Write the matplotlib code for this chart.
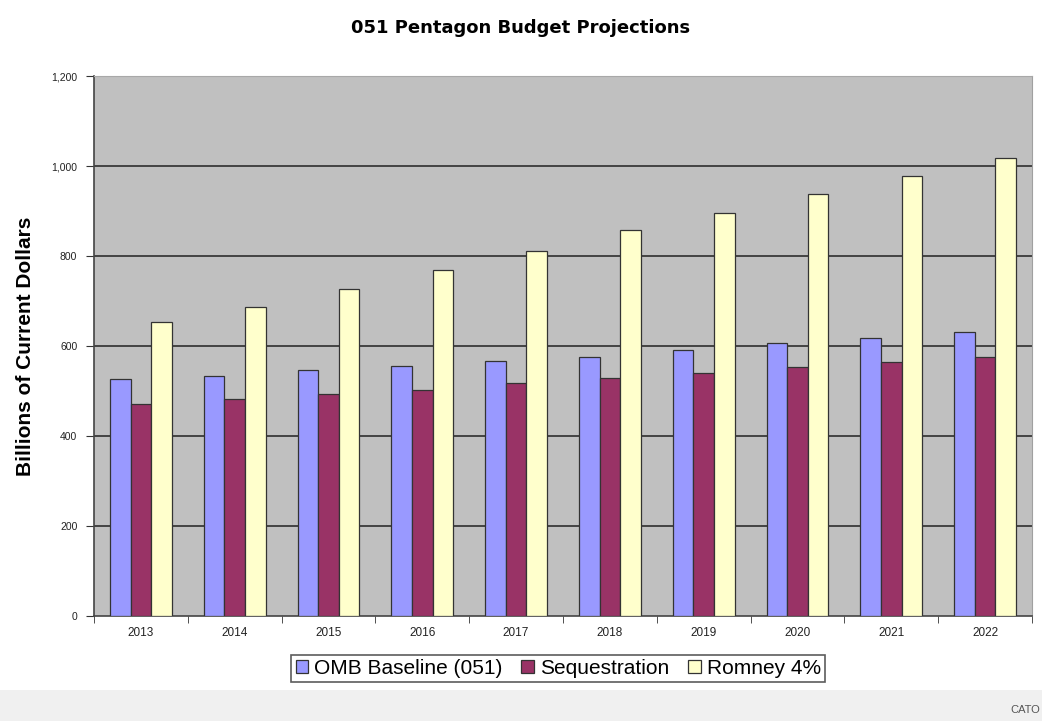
import matplotlib.pyplot as plt
import numpy as np
from matplotlib.patches import Rectangle

plt.rcParams['font.family'] = ['Liberation Sans', 'DejaVu Sans']

years = ['2013', '2014', '2015', '2016', '2017', '2018', '2019', '2020', '2021', '2022']
omb = [527, 533, 547, 555, 567, 576, 591, 606, 618, 631]
sequestration = [471, 482, 493, 502, 517, 529, 540, 553, 564, 576]
romney = [653, 687, 727, 768, 812, 858, 896, 937, 978, 1018]

names = ['OMB Baseline (051)', 'Sequestration', 'Romney 4%']
colors = ['#9999FF', '#993366', '#FFFFCC']

fig = plt.figure(figsize=(10.42, 7.21), dpi=100)
fig.patch.set_facecolor('white')

# light band at the bottom of the picture
fig.patches.append(Rectangle((0, 0), 1, 31 / 721, transform=fig.transFigure,
                             facecolor='#F0F0F0', edgecolor='none', zorder=0))
fig.text(0.998, 0.008, 'CATO', ha='right', va='bottom', fontsize=8, color='#555555')

ax = fig.add_axes([94 / 1042, 1 - 616 / 721, 938 / 1042, 540 / 721])
ax.set_facecolor('#C0C0C0')

x = np.arange(len(years))
w = 0.22
series = [omb, sequestration, romney]
for i, (vals, c, n) in enumerate(zip(series, colors, names)):
    ax.bar(x + (i - 1) * w, vals, w, color=c, edgecolor='#333333', linewidth=0.9,
           label=n, zorder=3)

ax.set_xlim(-0.5, len(years) - 0.5)
ax.set_ylim(0, 1200)
ax.set_yticks(range(0, 1201, 200))
ax.set_yticklabels(['0', '200', '400', '600', '800', '1,000', '1,200'])
ax.yaxis.grid(True, color='#222222', linewidth=1.1, zorder=1)
ax.set_axisbelow(True)
gl = ax.yaxis.get_gridlines()
gl[0].set_visible(False)
gl[-1].set_visible(False)

ax.set_xticks(x)
ax.set_xticklabels(years)
ax.set_xticks(np.arange(-0.5, len(years)), minor=True)
ax.tick_params(axis='x', which='major', length=0, labelsize=8.5, colors='#222222', pad=8)
ax.tick_params(axis='x', which='minor', length=5, color='#333333', direction='out')
ax.tick_params(axis='y', length=6, labelsize=7.5, colors='#222222', pad=6)
ax.tick_params(axis='y', color='#333333')

ax.spines['top'].set_color('#A8A8A8')
ax.spines['right'].set_color('#A0A0A0')
ax.spines['left'].set_color('#444444')
ax.spines['bottom'].set_color('#444444')
ax.spines['left'].set_linewidth(1.2)
ax.spines['bottom'].set_linewidth(1.2)

ax.set_ylabel('Billions of Current Dollars', fontsize=15, fontweight='bold', labelpad=12)
fig.text(0.5, 1 - 28 / 721, '051 Pentagon Budget Projections', ha='center', va='center',
         fontsize=13, fontweight='bold', family='DejaVu Sans')

leg = ax.legend(loc='upper center', bbox_to_anchor=(0.495, -0.072), ncol=3, fontsize=15,
                frameon=True, fancybox=False, edgecolor='#333333', handlelength=0.6,
                handleheight=0.6, handletextpad=0.3, columnspacing=0.9, borderpad=0.2,
                borderaxespad=0)
leg.get_frame().set_linewidth(1.2)

fig.savefig('out.png', dpi=100)
